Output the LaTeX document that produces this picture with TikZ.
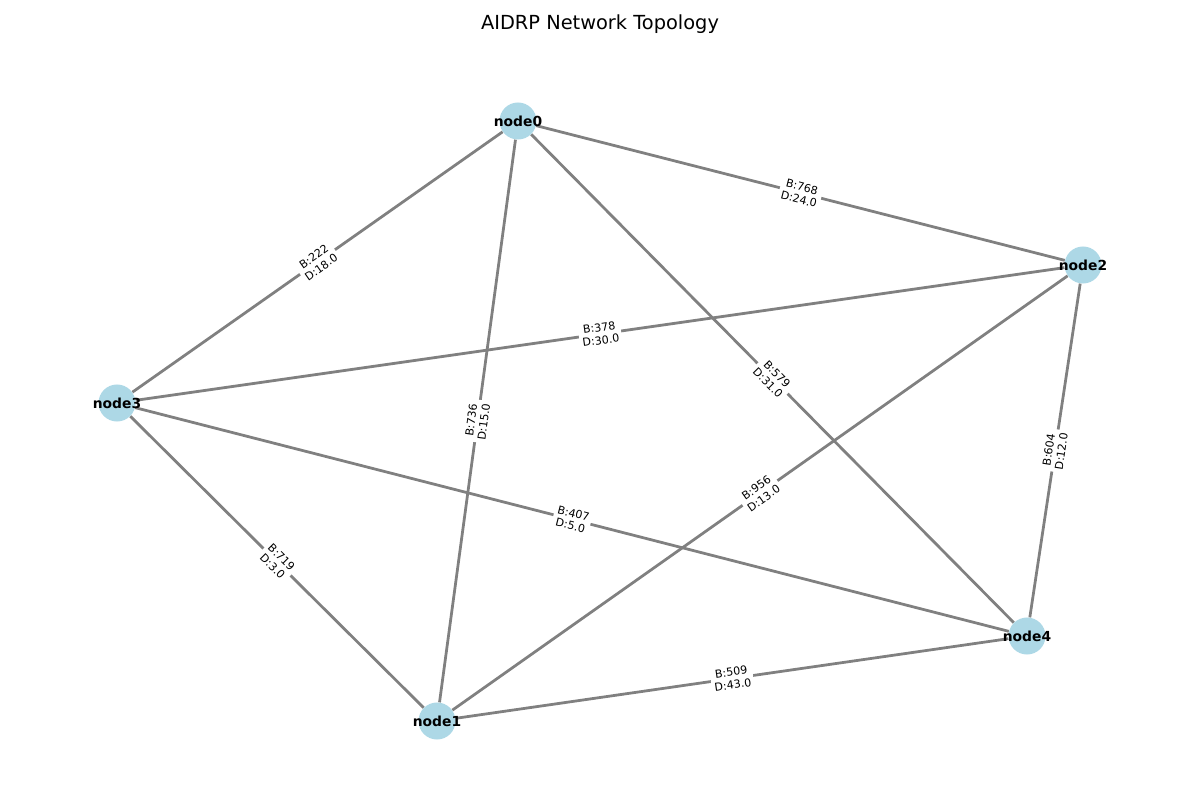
\documentclass[tikz,border=0pt]{standalone}
\usepackage{fontspec}
\setmainfont{DejaVu Sans}
\usetikzlibrary{backgrounds}
\definecolor{lightblue}{HTML}{ADD8E6}
\tikzset{
    vertex/.style={circle, fill=lightblue, minimum size=0.37in, inner sep=0pt},
    link/.style={draw=gray, line width=2pt},
    weight/.style={midway, sloped, fill=white, rounded corners=2pt, inner sep=2pt,
        align=center, font=\fontsize{8}{9.2}\selectfont}
}
\begin{document}
\begin{tikzpicture}[x=0.01in, y=-0.01in, every label/.style={font=\fontsize{10}{12}\selectfont\bfseries}]
                    \useasboundingbox (0,0) rectangle (1200,800);
                    \node (title) at (600,24) {\fontsize{14}{16}\selectfont AIDRP Network Topology};
                    % routers
                    \node[vertex, label=center:node0] (n0) at (518,121) {};
                    \node[vertex, label=center:node1] (n1) at (437,721) {};
                    \node[vertex, label=center:node2] (n2) at (1083,265) {};
                    \node[vertex, label=center:node3] (n3) at (117,403) {};
                    \node[vertex, label=center:node4] (n4) at (1027,636) {};
                    % links, bandwidth and delay
                    \begin{pgfonlayer}{background}
                        \draw[link] (n0) -- node[weight] {B:768\\D:24.0} (n2);
                        \draw[link] (n0) -- node[weight] {B:222\\D:18.0} (n3);
                        \draw[link] (n0) -- node[weight] {B:736\\D:15.0} (n1);
                        \draw[link] (n0) -- node[weight] {B:579\\D:31.0} (n4);
                        \draw[link] (n2) -- node[weight] {B:378\\D:30.0} (n3);
                        \draw[link] (n2) -- node[weight] {B:956\\D:13.0} (n1);
                        \draw[link] (n2) -- node[weight] {B:604\\D:12.0} (n4);
                        \draw[link] (n3) -- node[weight] {B:407\\D:5.0} (n4);
                        \draw[link] (n3) -- node[weight] {B:719\\D:3.0} (n1);
                        \draw[link] (n1) -- node[weight] {B:509\\D:43.0} (n4);
                    \end{pgfonlayer}
                \end{tikzpicture}
\end{document}
